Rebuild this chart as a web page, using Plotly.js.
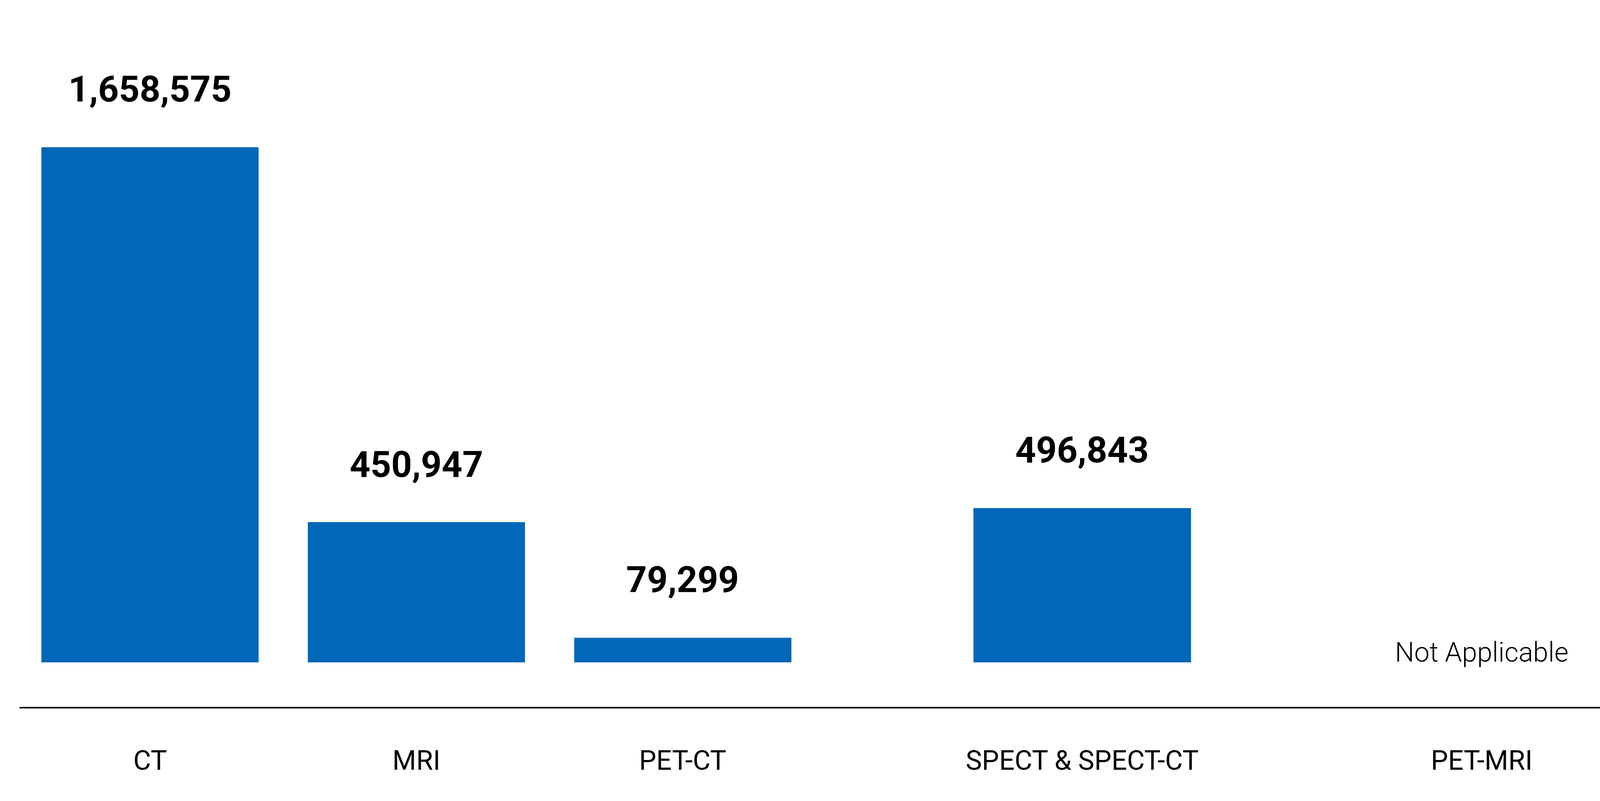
<!DOCTYPE html>
<html>
<head>
<meta charset="utf-8">
<script src="https://cdn.plot.ly/plotly-3.0.1.min.js"></script>
<style>
  html, body { margin: 0; padding: 0; background: #ffffff; overflow: hidden; }
  #chart { position: absolute; left: 0; top: 0; }
</style>
</head>
<body>
<div id="chart"></div>
<script>
// ---- data ----
const categories = ['CT', 'MRI', 'PET-CT', 'SPECT & SPECT-CT', 'PET-MRI'];
const scanCounts = [1658575, 450947, 79299, 496843, null];
const missingLabel = 'Not Applicable';

// ---- layout configuration (column centres in half-slot units; the reference spaces columns unevenly) ----
const columnCentres = [0, 2, 4, 7, 10];
const barColor = '#0067B9';

// reference frame is 4285 x 2051; scale everything to the real viewport
const REF_W = 4285, REF_H = 2051;
const vw = document.documentElement.clientWidth || window.innerWidth || REF_W;
const vh = document.documentElement.clientHeight || window.innerHeight || REF_H;
const s = vw / REF_W;
const W = Math.round(REF_W * s);
const H = Math.max(Math.round(REF_H * s), Math.round(vh), Math.round(2130 * s));
const chartDiv = document.getElementById('chart');
chartDiv.style.width = W + 'px';
chartDiv.style.height = H + 'px';

const valueLabels = scanCounts.map(v => v === null ? missingLabel : v.toLocaleString('en-US'));

const trace = {
  type: 'bar',
  x: columnCentres,
  y: scanCounts,
  width: 1.632,
  marker: { color: barColor, line: { width: 0 } },
  hoverinfo: 'skip',
  showlegend: false
};

const annotations = scanCounts.map((v, i) => {
  if (v === null) {
    return {
      x: columnCentres[i], y: 0, xref: 'x', yref: 'y',
      text: valueLabels[i], showarrow: false,
      xanchor: 'center', yanchor: 'bottom', yshift: -17 * s,
      font: { family: 'Roboto', size: 73 * s, weight: 300, color: '#000000' }
    };
  }
  return {
    x: columnCentres[i], y: v, xref: 'x', yref: 'y',
    text: valueLabels[i], showarrow: false,
    xanchor: 'center', yanchor: 'bottom', yshift: 96 * s,
    font: { family: 'Roboto', size: 97 * s, weight: 700, color: '#000000' }
  };
});

// geometry measured in reference pixels
const pxPerUnitX = 356.6;
const axisStart = 52;
const zeroPxX = 402;
const xr0 = -(zeroPxX - axisStart) / pxPerUnitX;
const xr1 = xr0 + (REF_W - axisStart) / pxPerUnitX;

const plotBottom = 1894, zeroPxY = 1775;
const valuePerPx = 1658575 / 1381;
const yr0 = -(plotBottom - zeroPxY) * valuePerPx;
const yr1 = zeroPxY * valuePerPx;

const layout = {
  width: W, height: H,
  margin: { l: 0, r: 0, t: 0, b: H - plotBottom * s, pad: 0 },
  paper_bgcolor: '#ffffff',
  plot_bgcolor: '#ffffff',
  font: { family: 'Roboto', color: '#000000' },
  showlegend: false,
  bargap: 0,
  xaxis: {
    domain: [axisStart / REF_W, 1],
    range: [xr0, xr1],
    tickmode: 'array',
    tickvals: columnCentres,
    ticktext: categories,
    ticks: 'outside',
    ticklen: 77 * s,
    tickwidth: 1,
    tickcolor: 'rgba(0,0,0,0)',
    showgrid: false,
    zeroline: false,
    showline: true,
    linecolor: '#000000',
    linewidth: 4 * s,
    tickfont: { family: 'Roboto', size: 73 * s, color: '#000000' },
    automargin: false,
    fixedrange: true
  },
  yaxis: {
    range: [yr0, yr1],
    visible: false,
    showgrid: false,
    zeroline: false,
    fixedrange: true
  },
  annotations: annotations
};

Plotly.newPlot('chart', [trace], layout, { displayModeBar: false, staticPlot: true });
</script>
</body>
</html>
